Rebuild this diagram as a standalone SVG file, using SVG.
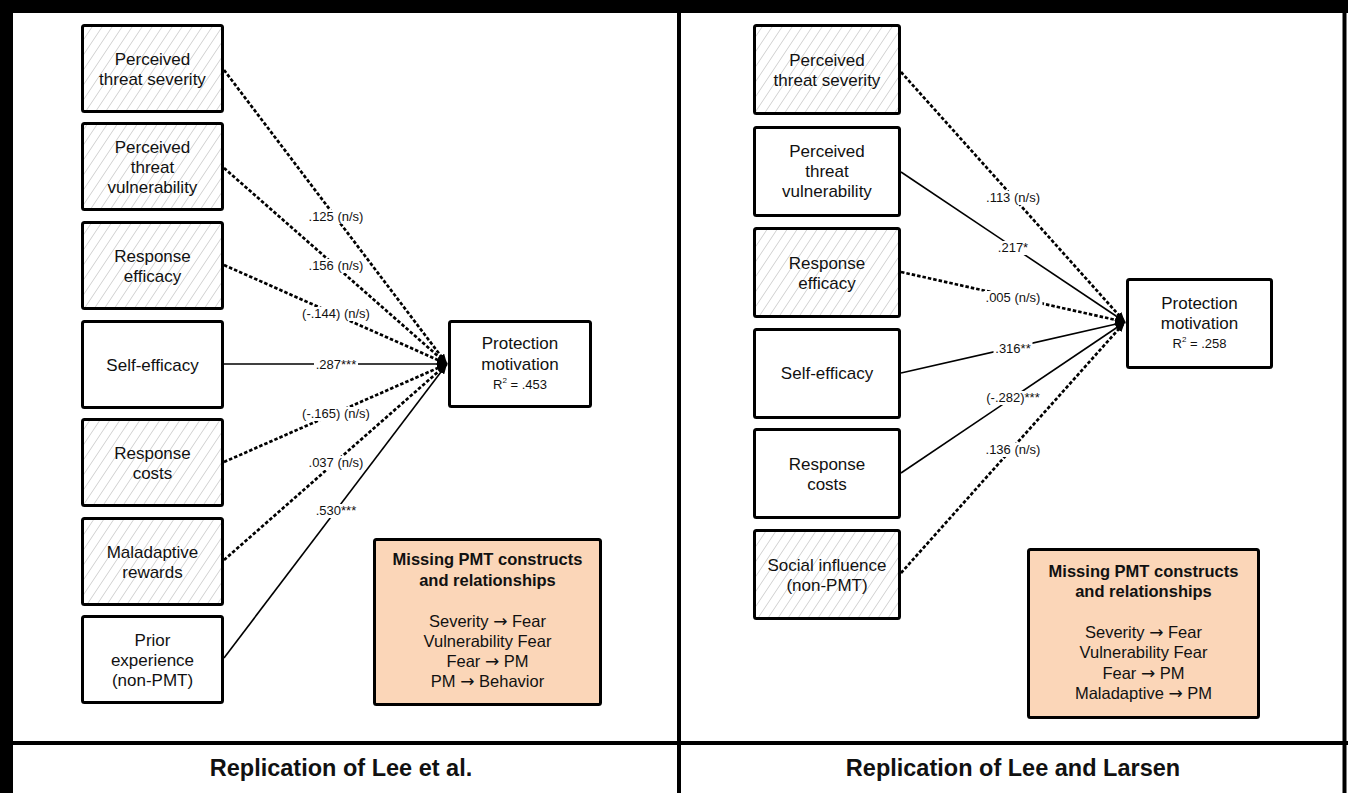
<svg xmlns="http://www.w3.org/2000/svg" width="1348" height="793" viewBox="0 0 1348 793">
  <defs>
    <pattern id="hatch" patternUnits="userSpaceOnUse" width="10" height="15">
      <path d="M0,15 L10,0 M-1,1.5 L1,-1.5 M9,16.5 L11,13.5" stroke="#cbcbcb" stroke-width="0.9" fill="none"/>
    </pattern>
    <marker id="arrow" viewBox="0 0 10 8" refX="10" refY="4" markerWidth="10" markerHeight="8" markerUnits="userSpaceOnUse" orient="auto">
      <path d="M0,0 L10,4 L0,8 z" fill="#000"/>
    </marker>
  </defs>
  <style>
    text { font-family: "Liberation Sans", Arial, sans-serif; fill: #111; text-anchor: middle; }
    .node { stroke: #000; stroke-width: 3; }
    .plain { fill: #fff; }
    .hatched { fill: url(#hatch); }
    .note { fill: #fbd6b8; }
    .lbl { font-size: 17px; }
    .pm { font-size: 17px; }
    .r2 { font-size: 13px; }
    .notehead { font-size: 16.5px; font-weight: bold; }
    .notebody { font-size: 16.5px; }
    .arr { font-family: "DejaVu Sans", sans-serif; font-size: 17px; }
    .title { font-size: 23.5px; font-weight: bold; }
    .edge { stroke: #000; fill: none; marker-end: url(#arrow); }
    .sig { stroke-width: 1.6; }
    .ns { stroke-width: 2.7; stroke-dasharray: 3.5 2; }
    .elbl { font-size: 13px; }
    .bg { fill: #fff; }
  </style>

  <rect width="1348" height="793" fill="#fff"/>

  <!-- table frame -->
  <g id="frame" fill="#000">
    <rect x="0" y="0" width="1348" height="13"/>
    <rect x="0" y="0" width="13" height="793"/>
    <rect x="677" y="0" width="4" height="793"/>
    <rect x="1342.5" y="0" width="4" height="793"/>
    <rect x="0" y="741" width="1348" height="4"/>
  </g>

  <!-- path connectors, left model -->
  <g id="connectors-left">
    <line class="edge ns" x1="224" y1="70" x2="447" y2="364"/>
    <line class="edge ns" x1="224" y1="168" x2="447" y2="364"/>
    <line class="edge ns" x1="224" y1="265" x2="447" y2="364"/>
    <line class="edge sig" x1="224" y1="364" x2="447" y2="364"/>
    <line class="edge ns" x1="224" y1="462" x2="447" y2="364"/>
    <line class="edge ns" x1="224" y1="560" x2="447" y2="364"/>
    <line class="edge sig" x1="224" y1="658" x2="447" y2="364"/>
    <g>
      <rect class="bg" x="306.5" y="210" width="59" height="14"/>
      <text class="elbl" x="336" y="221">.125 (n/s)</text>
      <rect class="bg" x="306.5" y="259" width="59" height="14"/>
      <text class="elbl" x="336" y="270">.156 (n/s)</text>
      <rect class="bg" x="300" y="307" width="72" height="14"/>
      <text class="elbl" x="336" y="318">(-.144) (n/s)</text>
      <rect class="bg" x="314" y="358" width="44" height="14"/>
      <text class="elbl" x="336" y="369">.287***</text>
      <rect class="bg" x="300" y="407" width="72" height="14"/>
      <text class="elbl" x="336" y="418">(-.165) (n/s)</text>
      <rect class="bg" x="306.5" y="456" width="59" height="14"/>
      <text class="elbl" x="336" y="467">.037 (n/s)</text>
      <rect class="bg" x="314" y="504" width="44" height="14"/>
      <text class="elbl" x="336" y="515">.530***</text>
    </g>
  </g>

  <!-- path connectors, right model -->
  <g id="connectors-right">
    <line class="edge ns" x1="901" y1="72" x2="1125" y2="322"/>
    <line class="edge sig" x1="901" y1="172" x2="1125" y2="322"/>
    <line class="edge ns" x1="901" y1="272" x2="1125" y2="322"/>
    <line class="edge sig" x1="901" y1="373" x2="1125" y2="322"/>
    <line class="edge sig" x1="901" y1="473" x2="1125" y2="322"/>
    <line class="edge ns" x1="901" y1="573" x2="1125" y2="322"/>
    <g>
      <rect class="bg" x="983.5" y="191" width="59" height="14"/>
      <text class="elbl" x="1013" y="202">.113 (n/s)</text>
      <rect class="bg" x="996" y="241" width="34" height="14"/>
      <text class="elbl" x="1013" y="252">.217*</text>
      <rect class="bg" x="983.5" y="291" width="59" height="14"/>
      <text class="elbl" x="1013" y="302">.005 (n/s)</text>
      <rect class="bg" x="993.5" y="342" width="39" height="14"/>
      <text class="elbl" x="1013" y="353">.316**</text>
      <rect class="bg" x="984.5" y="391" width="57" height="14"/>
      <text class="elbl" x="1013" y="402">(-.282)***</text>
      <rect class="bg" x="983.5" y="443" width="59" height="14"/>
      <text class="elbl" x="1013" y="454">.136 (n/s)</text>
    </g>
  </g>

  <!-- left model: predictors -->
  <g id="l-severity">
    <rect class="node hatched" x="82.5" y="25.5" width="140" height="86" rx="2"/>
    <text class="lbl" x="152.5" y="64.5">Perceived</text>
    <text class="lbl" x="152.5" y="84.5">threat severity</text>
  </g>
  <g id="l-vulnerability">
    <rect class="node hatched" x="82.5" y="123.5" width="140" height="86" rx="2"/>
    <text class="lbl" x="152.5" y="152.5">Perceived</text>
    <text class="lbl" x="152.5" y="172.5">threat</text>
    <text class="lbl" x="152.5" y="192.5">vulnerability</text>
  </g>
  <g id="l-response-efficacy">
    <rect class="node hatched" x="82.5" y="222.5" width="140" height="86" rx="2"/>
    <text class="lbl" x="152.5" y="261.5">Response</text>
    <text class="lbl" x="152.5" y="281.5">efficacy</text>
  </g>
  <g id="l-self-efficacy">
    <rect class="node plain" x="82.5" y="321.5" width="140" height="86" rx="2"/>
    <text class="lbl" x="152.5" y="370.5">Self-efficacy</text>
  </g>
  <g id="l-response-costs">
    <rect class="node hatched" x="82.5" y="419.5" width="140" height="86" rx="2"/>
    <text class="lbl" x="152.5" y="458.5">Response</text>
    <text class="lbl" x="152.5" y="478.5">costs</text>
  </g>
  <g id="l-maladaptive">
    <rect class="node hatched" x="82.5" y="518.5" width="140" height="86" rx="2"/>
    <text class="lbl" x="152.5" y="557.5">Maladaptive</text>
    <text class="lbl" x="152.5" y="577.5">rewards</text>
  </g>
  <g id="l-prior-experience">
    <rect class="node plain" x="82.5" y="616.5" width="140" height="86" rx="2"/>
    <text class="lbl" x="152.5" y="645.5">Prior</text>
    <text class="lbl" x="152.5" y="665.5">experience</text>
    <text class="lbl" x="152.5" y="685.5">(non-PMT)</text>
  </g>

  <!-- left model: outcome -->
  <g id="l-protection-motivation">
    <rect class="node plain" x="449.5" y="321.5" width="141" height="85" rx="2"/>
    <text class="pm" x="520" y="349">Protection</text>
    <text class="pm" x="520" y="370">motivation</text>
    <text class="r2" x="520" y="389">R<tspan font-size="8" dy="-6">2</tspan><tspan dy="6"> = .453</tspan></text>
  </g>

  <!-- left model: note -->
  <g id="l-missing">
    <rect class="node note" x="374.5" y="539.5" width="226" height="165" rx="2"/>
    <text class="notehead" x="487.5" y="565">Missing PMT constructs</text>
    <text class="notehead" x="487.5" y="586">and relationships</text>
    <text class="notebody" x="487.5" y="627">Severity <tspan class="arr">→</tspan> Fear</text>
    <text class="notebody" x="487.5" y="647">Vulnerability Fear</text>
    <text class="notebody" x="487.5" y="667">Fear <tspan class="arr">→</tspan> PM</text>
    <text class="notebody" x="487.5" y="687">PM <tspan class="arr">→</tspan> Behavior</text>
  </g>

  <!-- right model: predictors -->
  <g id="r-severity">
    <rect class="node hatched" x="754.5" y="25.5" width="145" height="88" rx="2"/>
    <text class="lbl" x="827" y="65.5">Perceived</text>
    <text class="lbl" x="827" y="85.5">threat severity</text>
  </g>
  <g id="r-vulnerability">
    <rect class="node plain" x="754.5" y="127.5" width="145" height="88" rx="2"/>
    <text class="lbl" x="827" y="156.5">Perceived</text>
    <text class="lbl" x="827" y="176.5">threat</text>
    <text class="lbl" x="827" y="196.5">vulnerability</text>
  </g>
  <g id="r-response-efficacy">
    <rect class="node hatched" x="754.5" y="228.5" width="145" height="88" rx="2"/>
    <text class="lbl" x="827" y="268.5">Response</text>
    <text class="lbl" x="827" y="288.5">efficacy</text>
  </g>
  <g id="r-self-efficacy">
    <rect class="node plain" x="754.5" y="329.5" width="145" height="88" rx="2"/>
    <text class="lbl" x="827" y="379">Self-efficacy</text>
  </g>
  <g id="r-response-costs">
    <rect class="node plain" x="754.5" y="429.5" width="145" height="88" rx="2"/>
    <text class="lbl" x="827" y="469.5">Response</text>
    <text class="lbl" x="827" y="489.5">costs</text>
  </g>
  <g id="r-social-influence">
    <rect class="node hatched" x="754.5" y="530.5" width="145" height="88" rx="2"/>
    <text class="lbl" x="827" y="570.5">Social influence</text>
    <text class="lbl" x="827" y="590.5">(non-PMT)</text>
  </g>

  <!-- right model: outcome -->
  <g id="r-protection-motivation">
    <rect class="node plain" x="1127.5" y="279.5" width="144" height="88" rx="2"/>
    <text class="pm" x="1199.5" y="309">Protection</text>
    <text class="pm" x="1199.5" y="329">motivation</text>
    <text class="r2" x="1199.5" y="348">R<tspan font-size="8" dy="-6">2</tspan><tspan dy="6"> = .258</tspan></text>
  </g>

  <!-- right model: note -->
  <g id="r-missing">
    <rect class="node note" x="1028.5" y="549.5" width="230" height="168" rx="2"/>
    <text class="notehead" x="1143.5" y="577">Missing PMT constructs</text>
    <text class="notehead" x="1143.5" y="597">and relationships</text>
    <text class="notebody" x="1143.5" y="638">Severity <tspan class="arr">→</tspan> Fear</text>
    <text class="notebody" x="1143.5" y="658">Vulnerability Fear</text>
    <text class="notebody" x="1143.5" y="679">Fear <tspan class="arr">→</tspan> PM</text>
    <text class="notebody" x="1143.5" y="699">Maladaptive <tspan class="arr">→</tspan> PM</text>
  </g>

  <!-- captions -->
  <g id="captions">
    <text class="title" x="341" y="776">Replication of Lee et al.</text>
    <text class="title" x="1013" y="776">Replication of Lee and Larsen</text>
  </g>
</svg>
